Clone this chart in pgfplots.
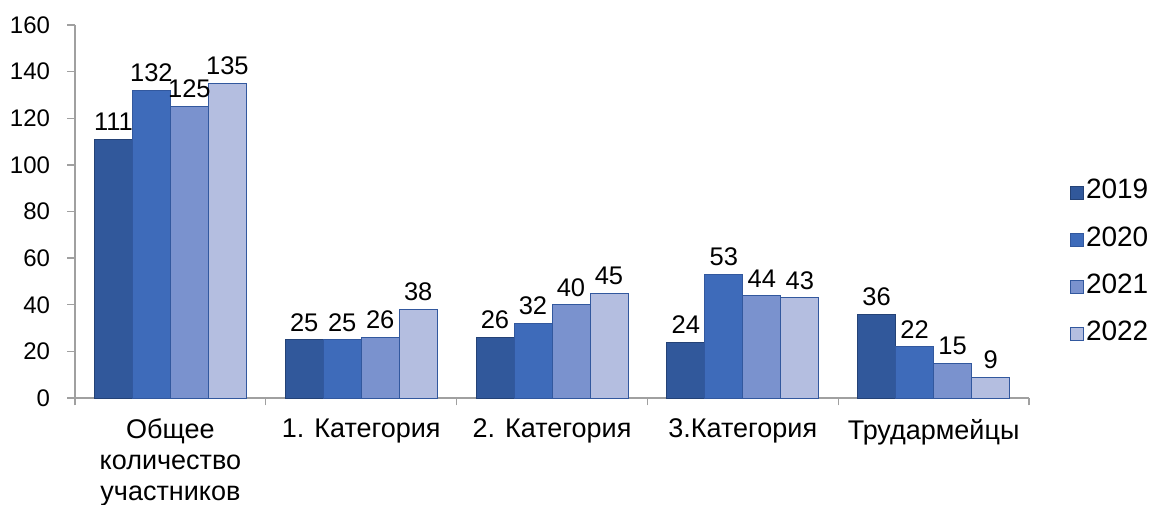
\documentclass[border=0pt]{standalone}
\usepackage{fontspec}
\setmainfont{Liberation Sans}
\usepackage{pgfplots}
\pgfplotsset{compat=1.18}
\definecolor{cA}{RGB}{49,88,155}
\definecolor{cB}{RGB}{62,107,186}
\definecolor{cC}{RGB}{122,146,206}
\definecolor{cD}{RGB}{180,190,224}
\definecolor{eA}{RGB}{36,66,118}
\definecolor{eB}{RGB}{50,88,158}
\definecolor{ax}{RGB}{160,160,160}
\begin{document}
\begin{tikzpicture}
\begin{axis}[
  at={(0pt,0pt)}, anchor=south west,
  scale only axis, width=954pt, height=373pt,
  ybar=0pt, bar width=38pt,
  xmin=-0.5, xmax=4.5, ymin=0, ymax=160,
  ytick={0,20,...,160},
  xtick={-0.5,0.5,1.5,2.5,3.5,4.5}, xticklabels={},
  extra x ticks={0,1,2,3,4},
  extra x tick labels={{Общее\\количество\\участников},{1. Категория},{2. Категория},{3.Категория},{Трудармейцы}},
  extra x tick style={tick style={draw=none}},
  x tick label style={align=center, font=\fontsize{27}{31}\selectfont, yshift=-10pt},
  y tick label style={font=\fontsize{24}{28}\selectfont, xshift=-14pt},
  /pgf/number format/assume math mode=true,
  axis x line*=bottom, axis y line*=left,
  axis line style={draw=ax, line width=1.3pt, -},
  tick style={draw=ax, line width=1.3pt},
  tick align=outside, major tick length=7.5pt,
  clip=false,
  nodes near coords,
  every node near coord/.append style={font=\fontsize{25.5}{30}\selectfont, black, inner sep=2pt, yshift=6pt},
  legend style={at={(1,0.3686)}, anchor=west, xshift=38pt, draw=none, fill=none,
    font=\fontsize{28}{32}\selectfont, row sep=22pt, legend cell align=left},
  legend image code/.code={\draw[#1] (0pt,-9pt) rectangle (13pt,4pt);},
]
\addplot[fill=cA, draw=eA, line width=0.8pt] coordinates {(0,111) (1,25) (2,26) (3,24) (4,36)};
\addplot[fill=cB, draw=eB, line width=0.8pt] coordinates {(0,132) (1,25) (2,32) (3,53) (4,22)};
\addplot[fill=cC, draw=eB, line width=0.8pt] coordinates {(0,125) (1,26) (2,40) (3,44) (4,15)};
\addplot[fill=cD, draw=eB, line width=0.8pt] coordinates {(0,135) (1,38) (2,45) (3,43) (4,9)};
\legend{2019,2020,2021,2022}
\end{axis}
\pgfresetboundingbox
\useasboundingbox (-75pt,-107pt) rectangle (1077pt,398pt);
\end{tikzpicture}
\end{document}
